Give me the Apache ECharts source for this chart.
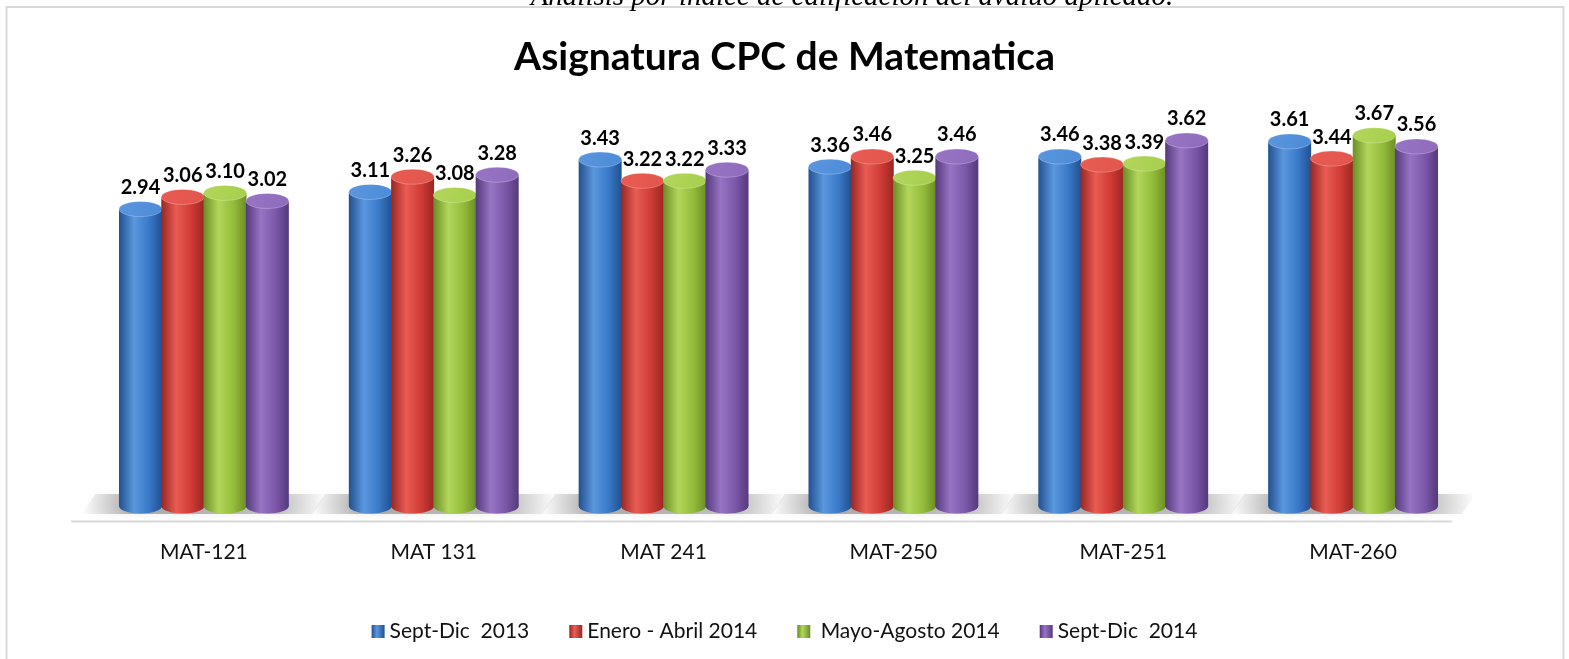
<!DOCTYPE html>
<html>
<head>
<meta charset="utf-8">
<script src="https://cdn.jsdelivr.net/npm/echarts@6/dist/echarts.min.js"></script>
<style>
  html, body { margin: 0; padding: 0; background: #fff; }
  #main { width: 1569px; height: 659px; }
</style>
</head>
<body>
<div id="main"></div>
<script>
var categories = ['MAT-121', 'MAT 131', 'MAT 241', 'MAT-250', 'MAT-251', 'MAT-260'];
var seriesNames = ['Sept-Dic  2013', 'Enero - Abril 2014', ' Mayo-Agosto 2014', 'Sept-Dic  2014'];
var sept2013 = [2.94, 3.11, 3.43, 3.36, 3.46, 3.61];
var eneAbr2014 = [3.06, 3.26, 3.22, 3.46, 3.38, 3.44];
var mayAgo2014 = [3.10, 3.08, 3.22, 3.25, 3.39, 3.67];
var sept2014 = [3.02, 3.28, 3.33, 3.46, 3.62, 3.56];
var allValues = [sept2013, eneAbr2014, mayAgo2014, sept2014];

// dark edge, mid, highlight, top colour
var palette = [
    ['#22508f', '#3979c8', '#5a97de', '#4d8ad8'],
    ['#9a2623', '#cf3b35', '#e95c53', '#e0554c'],
    ['#6b8e25', '#93bc3a', '#b2d65b', '#a7ce4d'],
    ['#54397b', '#7b57a8', '#9874c4', '#8f6bbc']
];

function sideGrad(c) {
    return new echarts.graphic.LinearGradient(0, 0, 1, 0, [
        {offset: 0, color: c[0]},
        {offset: 0.35, color: c[2]},
        {offset: 0.7, color: c[1]},
        {offset: 1, color: c[0]}
    ]);
}
function topGrad(c) {
    return new echarts.graphic.LinearGradient(0, 0, 1, 1, [
        {offset: 0, color: c[2]},
        {offset: 1, color: c[3]}
    ]);
}

function cylinder(si) {
    var c = palette[si];
    return function (params, api) {
        var idx = api.value(0);
        var top = api.coord([idx, api.value(1)]);
        var base = api.coord([idx, 0]);
        var band = api.size([1, 0])[0];
        var w = band * 0.187;
        var step = band * 0.184;
        var cx = top[0] + (si - 1.5) * step;
        var ry = 7.5;
        return {
            type: 'group',
            children: [
                {type: 'ellipse', shape: {cx: cx, cy: base[1], rx: w / 2, ry: ry}, style: {fill: sideGrad(c)}},
                {type: 'rect', shape: {x: cx - w / 2, y: top[1], width: w, height: base[1] - top[1]}, style: {fill: sideGrad(c)}},
                {type: 'ellipse', shape: {cx: cx, cy: top[1], rx: w / 2, ry: ry}, style: {fill: topGrad(c), stroke: 'rgba(255,255,255,0.25)', lineWidth: 1}},
                {type: 'text', x: cx, y: top[1] - ry - 4, style: {text: api.value(1).toFixed(2), align: 'center', verticalAlign: 'bottom', font: 'bold 20px Lato', fill: '#000'}}
            ]
        };
    };
}

function floorShadow(params, api) {
    var idx = api.value(0);
    var base = api.coord([idx, 0]);
    var band = api.size([1, 0])[0];
    var half = band * 0.184 * 2;
    var l = base[0] - half - 38, r = base[0] + half + 38;
    return {
        type: 'polygon',
        shape: {points: [[l + 14, base[1] - 12], [r, base[1] - 12], [r - 14, base[1] + 8], [l, base[1] + 8]]},
        style: {
            fill: new echarts.graphic.LinearGradient(0, 0, 1, 0, [
                {offset: 0, color: 'rgba(0,0,0,0)'},
                {offset: 0.22, color: 'rgba(0,0,0,0.3)'},
                {offset: 0.8, color: 'rgba(0,0,0,0.22)'},
                {offset: 1, color: 'rgba(0,0,0,0)'}
            ]),
            shadowBlur: 10,
            shadowColor: 'rgba(0,0,0,0.25)'
        }
    };
}

var series = [{
    type: 'custom',
    silent: true,
    renderItem: floorShadow,
    data: categories.map(function (c, i) { return [i, 0]; }),
    encode: {x: 0, y: 1},
    z: 1
}];
seriesNames.forEach(function (name, si) {
    series.push({
        name: name,
        type: 'custom',
        renderItem: cylinder(si),
        itemStyle: {color: new echarts.graphic.LinearGradient(0, 0, 1, 0, [
            {offset: 0, color: palette[si][0]},
            {offset: 0.4, color: palette[si][2]},
            {offset: 1, color: palette[si][0]}
        ])},
        data: allValues[si].map(function (v, i) { return [i, v]; }),
        encode: {x: 0, y: 1},
        z: 2 + si
    });
});

var myChart = echarts.init(document.getElementById('main'));
var option = {
    animation: false,
    title: {
        text: 'Asignatura CPC de Matematica',
        left: 'center',
        top: 33,
        textStyle: {fontFamily: 'Lato', fontWeight: 'bold', fontSize: 39, color: '#000'}
    },
    legend: {
        data: seriesNames,
        top: 616,
        left: 'center',
        itemGap: 40,
        itemWidth: 13,
        itemHeight: 13,
        icon: 'rect',
        textStyle: {fontFamily: 'Lato', fontSize: 21, color: '#111'}
    },
    grid: {left: 89, right: 101, top: 102, bottom: 153},
    xAxis: {
        type: 'category',
        data: categories,
        axisLine: {show: false},
        axisTick: {show: false},
        axisLabel: {margin: 36, fontFamily: 'Lato', fontSize: 21, color: '#111'}
    },
    yAxis: {
        type: 'value',
        min: 0,
        max: 4,
        show: false,
        splitLine: {show: false}
    },
    graphic: [
        {type: 'rect', shape: {x: 6.5, y: 7, width: 1557, height: 700}, style: {fill: 'none', stroke: '#d9d9d9', lineWidth: 2}, z: 0},
        {type: 'line', shape: {x1: 71, y1: 521.5, x2: 1452, y2: 521.5}, style: {stroke: '#d9d9d9', lineWidth: 2}, z: 0},
        {type: 'text', x: 852, y: 12, style: {text: 'Análisis por índice de calificación del avalúo aplicado.', align: 'center', verticalAlign: 'bottom', font: 'italic 29px "Liberation Serif"', fill: '#000'}, z: 10}
    ],
    series: series
};
myChart.setOption(option);
</script>
</body>
</html>
